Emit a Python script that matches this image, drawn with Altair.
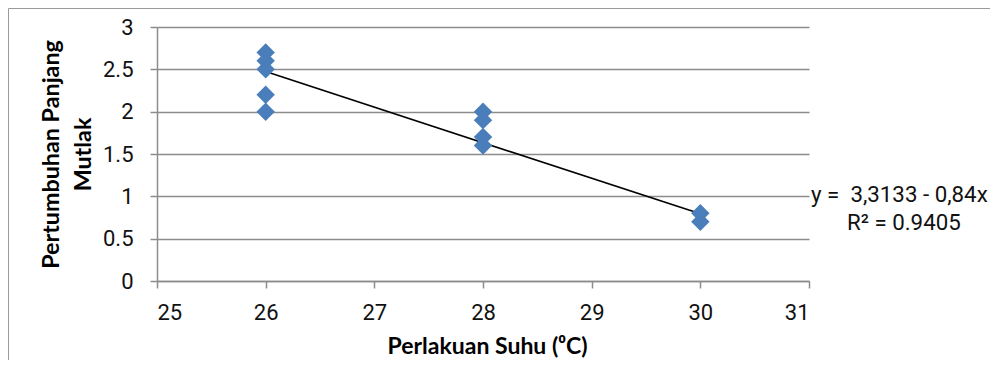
import altair as alt
import pandas as pd

# Data
suhu = [26, 26, 26, 26, 26, 28, 28, 28, 28, 30, 30]
pertumbuhan = [2.7, 2.6, 2.5, 2.2, 2.0, 2.0, 1.9, 1.7, 1.6, 0.8, 0.7]
trend_suhu = [26, 30]
trend_nilai = [2.4733, 0.7933]
x_ticks = [25, 26, 27, 28, 29, 30, 31]
y_ticks = [0, 0.5, 1, 1.5, 2, 2.5, 3]
eq_line1 = "y =\u00a0 3,3133 - 0,84x"
eq_line2 = "R\u00b2 = 0.9405"

pts = pd.DataFrame({"x": suhu, "y": pertumbuhan})
trend = pd.DataFrame({"x": trend_suhu, "y": trend_nilai})
one = pd.DataFrame({"k": [0]})

GRAY = "#8c8c8c"
xs = alt.Scale(domain=[25, 31], nice=False, zero=False)
ys = alt.Scale(domain=[0, 3], nice=False, zero=True)

x_axis = alt.Axis(
    values=x_ticks, title="Perlakuan Suhu (\u2070C)", grid=False,
    tickSize=7, labelPadding=14, titleFontSize=23,
    titleX=330, titleY=72, titleAlign="center", titleBaseline="alphabetic",
    format="d",
)
y_axis = alt.Axis(
    values=y_ticks, title=["Pertumbuhan Panjang", "Mutlak"], grid=True,
    tickSize=7, labelPadding=17, titleFontSize=23.3, titleLineHeight=32,
    titleAngle=270, titleX=-99, titleY=127, titleAlign="center",
    titleBaseline="alphabetic", format=".1~f",
)

points = alt.Chart(pts).mark_point(
    shape="diamond", filled=True, size=340, color="#4a7ebb", opacity=1
).encode(
    x=alt.X("x:Q", scale=xs, axis=x_axis),
    y=alt.Y("y:Q", scale=ys, axis=y_axis),
)

line = alt.Chart(trend).mark_line(color="black", strokeWidth=1.6).encode(
    x=alt.X("x:Q", scale=xs),
    y=alt.Y("y:Q", scale=ys),
)

txt1 = alt.Chart(one).mark_text(
    font="Roboto", fontSize=22.3, align="left", baseline="alphabetic", color="#111"
).encode(x=alt.value(654), y=alt.value(175), text=alt.value(eq_line1))
txt2 = alt.Chart(one).mark_text(
    font="Roboto", fontSize=22.3, align="left", baseline="alphabetic", color="#111"
).encode(x=alt.value(690), y=alt.value(203), text=alt.value(eq_line2))

frame = alt.Chart(one).mark_rect(
    fillOpacity=0, stroke="#9a9a9a", strokeWidth=1
).encode(
    x=alt.value(-148.5), y=alt.value(-18.5), x2=alt.value(1000), y2=alt.value(1000)
)

chart = alt.layer(frame, line, points, txt1, txt2).properties(
    width=652, height=254,
    autosize=alt.AutoSizeParams(type="none"),
    padding={"left": 149, "top": 19, "right": 181, "bottom": 79},
    background="white",
).configure_view(strokeWidth=0).configure_axis(
    labelFont="Roboto", labelFontSize=22, labelColor="#111",
    titleFont="Lato", titleFontWeight="bold", titleColor="#000",
    domainColor=GRAY, tickColor=GRAY, gridColor=GRAY,
    domainWidth=1.5, tickWidth=1.5, gridWidth=1.3,
)

chart.save("out.html", embed_options={"renderer": "svg", "actions": False})
